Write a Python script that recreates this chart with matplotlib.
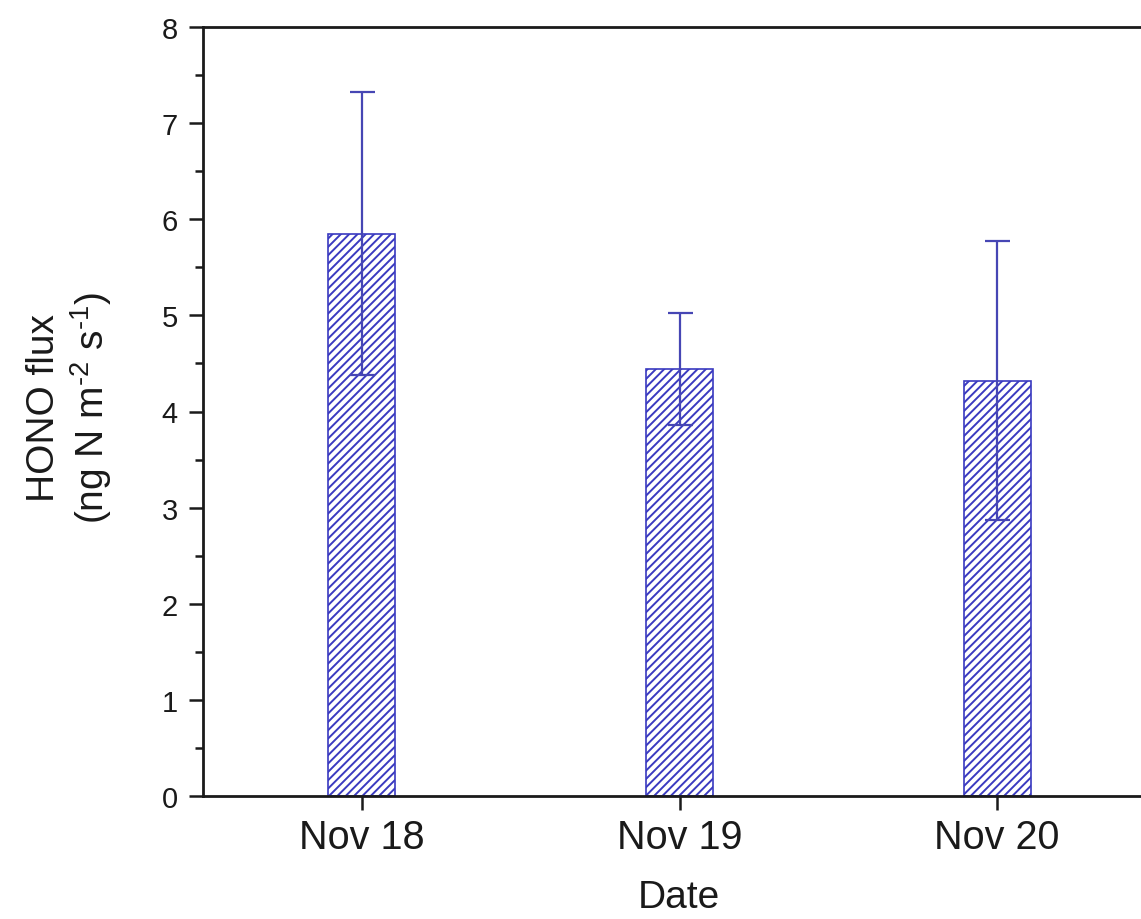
import matplotlib
matplotlib.use("Agg")
import matplotlib.pyplot as plt
from matplotlib.ticker import MultipleLocator

categories = ["Nov 18", "Nov 19", "Nov 20"]
flux = [5.85, 4.44, 4.32]
flux_err = [1.47, 0.58, 1.45]

plt.rcParams['font.family'] = ['Liberation Sans', 'DejaVu Sans']
plt.rcParams['mathtext.fontset'] = 'custom'
plt.rcParams['mathtext.rm'] = 'Liberation Sans'
plt.rcParams['mathtext.it'] = 'Liberation Sans'
plt.rcParams['hatch.linewidth'] = 1.4
plt.rcParams['hatch.color'] = '#3a3ac0'

W, H = 1141, 920
fig = plt.figure(figsize=(W / 100, H / 100), dpi=100)
ax = fig.add_axes([203 / W, 1 - 797 / H, 953 / W, 769 / H])

blue = '#3a3ac0'
txt = '#1a1a1a'
x = list(range(1, len(categories) + 1))
ax.bar(x, flux, width=0.21, facecolor='white', edgecolor=blue,
       linewidth=1.2, hatch='////', zorder=2)
ax.errorbar(x, flux, yerr=flux_err, fmt='none', ecolor='#4646b4',
            elinewidth=1.6, capsize=9, capthick=1.6, zorder=3)

ax.set_xlim(0.5, 3.5)
ax.set_ylim(0, 8)
ax.set_xticks(x)
ax.set_xticklabels(categories)
ax.yaxis.set_major_locator(MultipleLocator(1))
ax.yaxis.set_minor_locator(MultipleLocator(0.5))

for s in ['left', 'bottom', 'top']:
    ax.spines[s].set_linewidth(2.0)
    ax.spines[s].set_color(txt)
ax.spines['right'].set_visible(False)

ax.tick_params(axis='y', which='major', direction='out', length=10, width=1.8,
               labelsize=21, pad=8, colors=txt)
ax.tick_params(axis='y', which='minor', direction='out', length=6, width=1.8,
               colors=txt)
ax.tick_params(axis='x', which='major', direction='out', length=10, width=1.8,
               labelsize=28.5, pad=6, colors=txt)
ax.tick_params(axis='x', which='minor', bottom=False)
ax.tick_params(top=False, right=False)

fig.text(679 / W, 1 - 898 / H, "Date", ha='center', va='center',
         fontsize=28, color=txt)
fig.text(70 / W, 1 - 408 / H, "HONO flux\n(ng N m$^{\\text{-2}}$ s$^{\\text{-1}}$)",
         rotation=90, ha='center', va='center', multialignment='center',
         fontsize=28, color=txt, linespacing=1.2)

fig.savefig("out.png", dpi=100, facecolor='white')
